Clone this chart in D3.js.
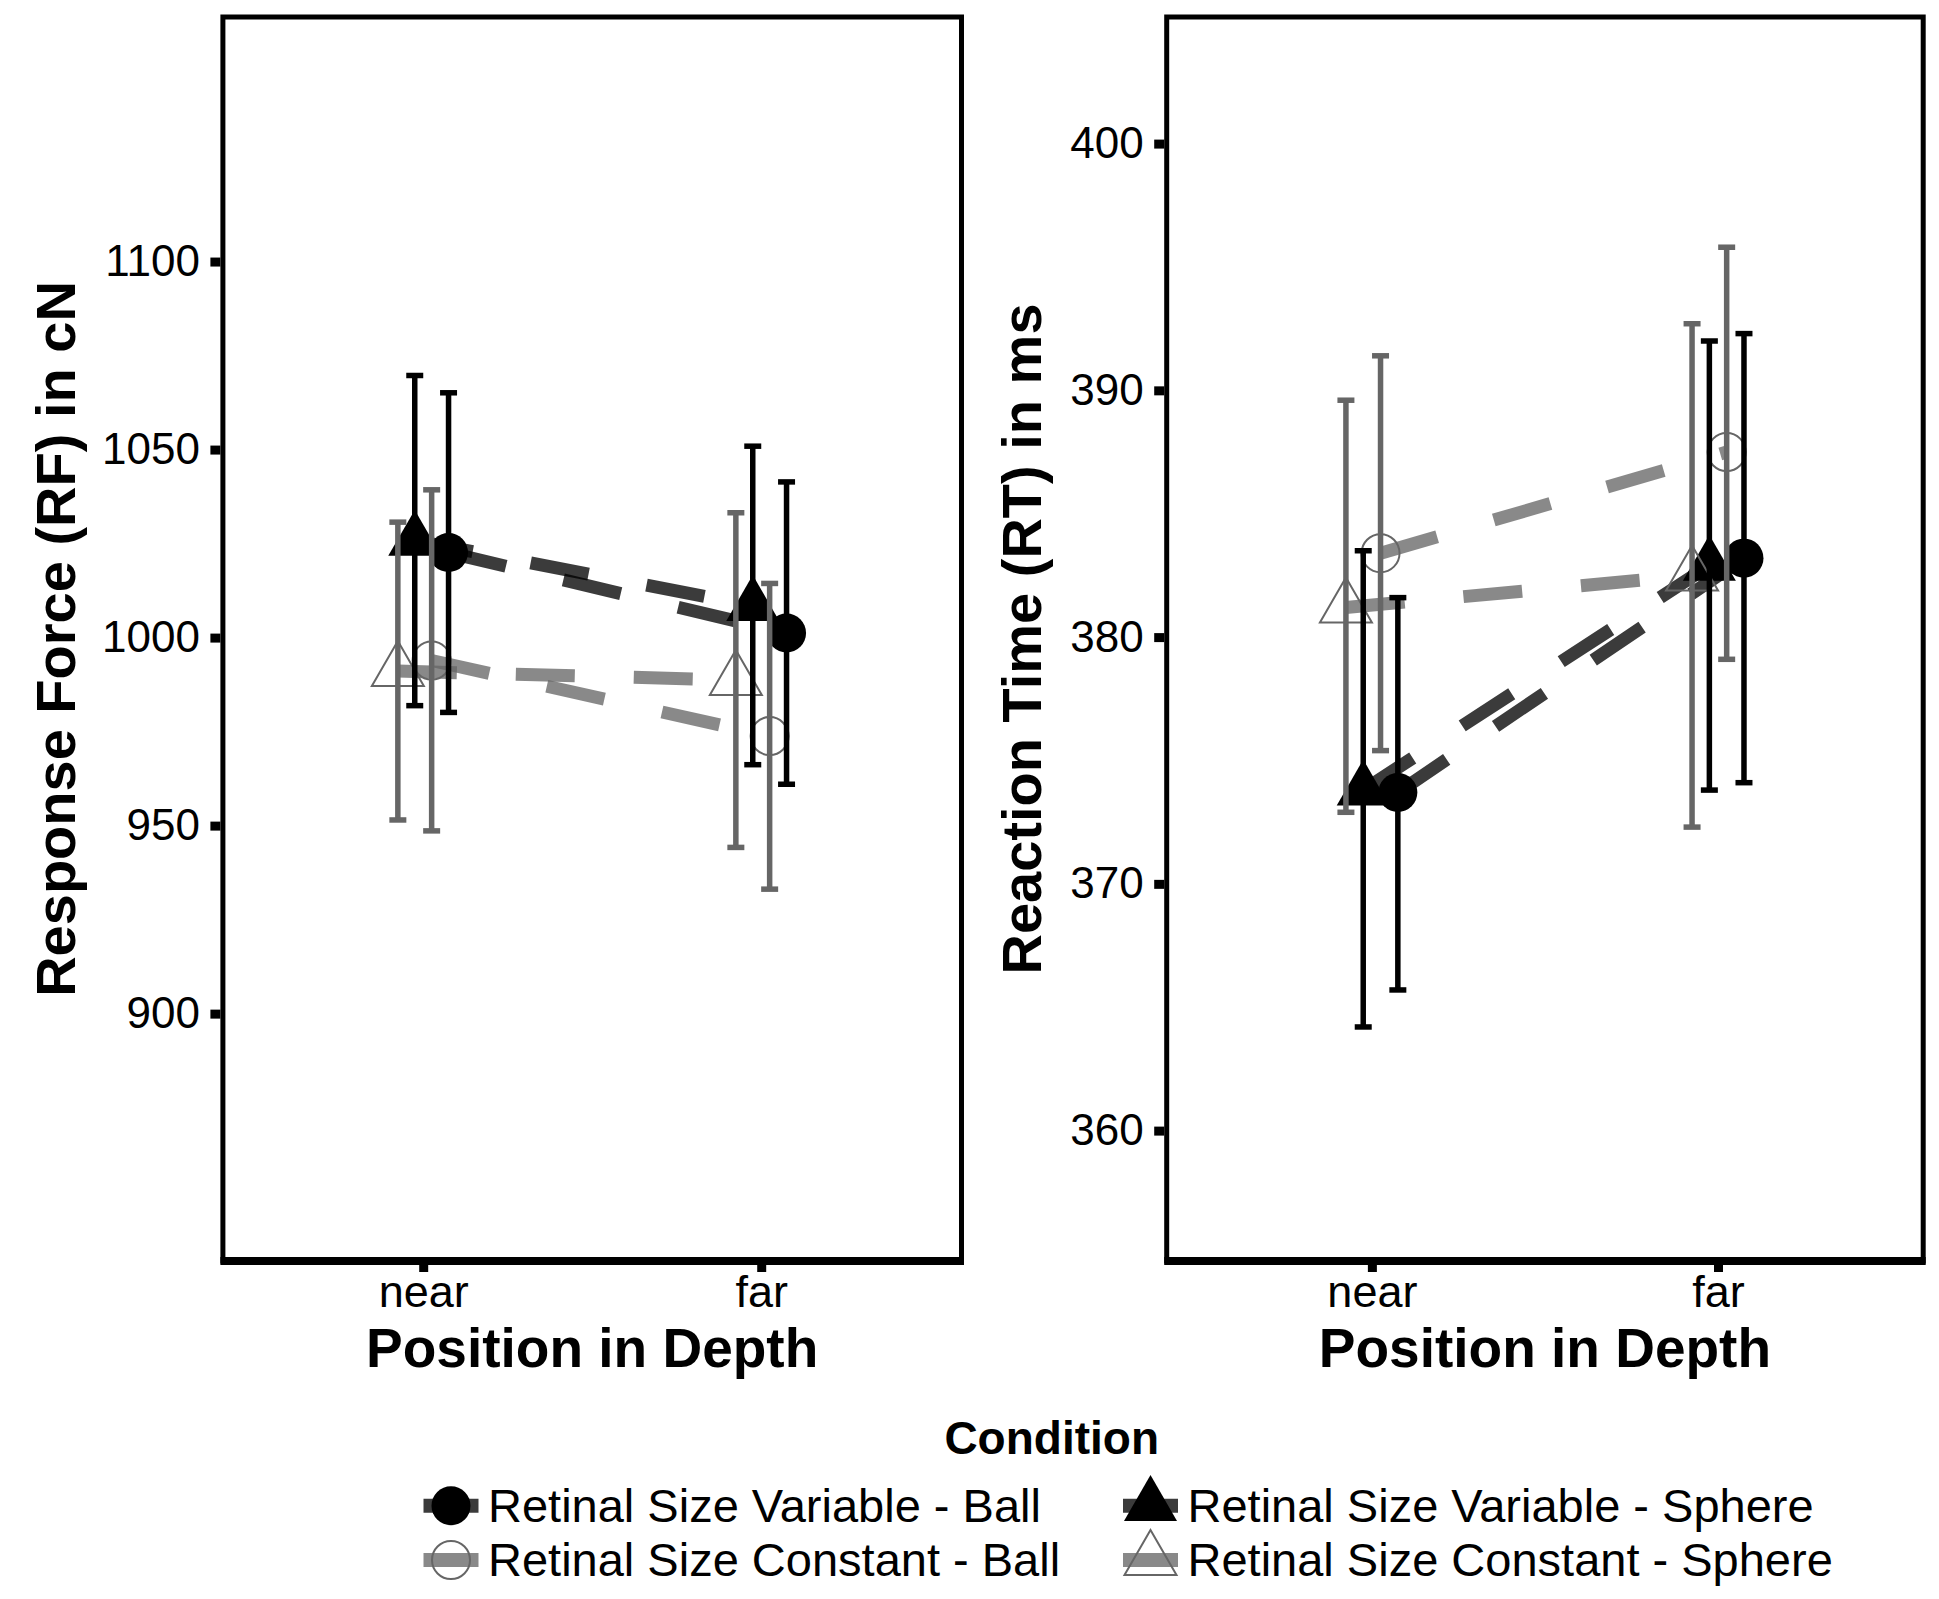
<!DOCTYPE html>
<html>
<head>
<meta charset="utf-8">
<script src="https://cdn.jsdelivr.net/npm/d3@7"></script>
<style>
  body { margin: 0; background: #fff; }
  text { font-family: "Liberation Sans", Arial, Helvetica, sans-serif; }
</style>
</head>
<body>
<svg id="chart" width="1939" height="1599"></svg>
<script>
var positions = ["near", "far"];
var conditions = ["Retinal Size Variable - Ball", "Retinal Size Constant - Ball",
                  "Retinal Size Variable - Sphere", "Retinal Size Constant - Sphere"];
var retinal = ["variable", "constant", "variable", "constant"];
var shapes = ["circle", "circle", "triangle", "triangle"];

// per condition: [near, far]
var rfMean = [[1022.6, 1001.2], [993.9, 973.8], [1025.8, 1008.5], [991.1, 988.7]];
var rfLow  = [[980.1, 961.0], [948.6, 933.1], [981.9, 966.2], [951.5, 944.2]];
var rfHigh = [[1065.1, 1041.4], [1039.3, 1014.4], [1069.7, 1050.9], [1030.7, 1033.2]];

var rtMean = [[373.7, 383.2], [383.4, 387.5], [373.8, 382.9], [381.2, 382.5]];
var rtLow  = [[365.7, 374.1], [375.4, 379.1], [364.2, 373.8], [372.9, 372.3]];
var rtHigh = [[381.6, 392.3], [391.4, 395.8], [383.5, 392.0], [389.6, 392.7]];

var rfTicks = [900, 950, 1000, 1050, 1100];
var rtTicks = [360, 370, 380, 390, 400];

var svg = d3.select("#chart");
var colour = { variable: "#000000", constant: "#666666" };
// dodge slot (position_dodge) of each condition
var slot = [1.5, 0.5, -0.5, -1.5];
var dodgeStep = 0.05;

function triangle(s) {
  var r = s / Math.sqrt(3);
  return "M0," + (-r) + "L" + (s / 2) + "," + (r / 2) + "L" + (-s / 2) + "," + (r / 2) + "Z";
}

function drawPoint(g, shape, kind, cx, cy) {
  var filled = kind == "variable";
  var el;
  if (shape == "circle") {
    el = g.append("circle").attr("cx", cx).attr("cy", cy).attr("r", filled ? 19.5 : 19);
  } else {
    el = g.append("path").attr("d", triangle(filled ? 53 : 52))
      .attr("transform", "translate(" + cx + "," + cy + ")");
  }
  if (filled) el.attr("fill", "#000");
  else el.attr("fill", "none").attr("stroke", "#666").attr("stroke-width", 2);
}

function plot_panel(p) {
  var g = svg.append("g");
  var x = d3.scaleLinear().domain([0.4, 2.6]).range([p.x0, p.x1]);
  var y = d3.scaleLinear().domain(p.ydomain).range([1262, 16]);
  var px = function(c, i) { return x(i + 1 + slot[c] * dodgeStep); };

  // dashed connecting lines
  var line = d3.line()
    .x(function(d) { return d[0]; })
    .y(function(d) { return d[1]; });
  conditions.forEach(function(name, c) {
    var pts = positions.map(function(pos, i) { return [px(c, i), y(p.mean[c][i])]; });
    g.append("path")
      .datum(pts)
      .attr("d", line)
      .attr("fill", "none")
      .attr("stroke", colour[retinal[c]])
      .attr("stroke-opacity", 0.77)
      .attr("stroke-width", 13)
      .attr("stroke-dasharray", "59,59");
  });

  // points
  conditions.forEach(function(name, c) {
    positions.forEach(function(pos, i) {
      drawPoint(g, shapes[c], retinal[c], px(c, i), y(p.mean[c][i]));
    });
  });

  // error bars
  conditions.forEach(function(name, c) {
    positions.forEach(function(pos, i) {
      var cx = px(c, i), lo = y(p.low[c][i]), hi = y(p.high[c][i]);
      var eb = g.append("g")
        .attr("stroke", colour[retinal[c]])
        .attr("stroke-width", 5.5);
      eb.append("line").attr("x1", cx).attr("x2", cx).attr("y1", lo).attr("y2", hi);
      eb.append("line").attr("x1", cx - 8.5).attr("x2", cx + 8.5).attr("y1", lo).attr("y2", lo);
      eb.append("line").attr("x1", cx - 8.5).attr("x2", cx + 8.5).attr("y1", hi).attr("y2", hi);
    });
  });

  // panel border
  g.append("rect")
    .attr("x", p.x0 + 2.5).attr("y", 17)
    .attr("width", p.x1 - p.x0 - 5).attr("height", 1261 - 17)
    .attr("fill", "none").attr("stroke", "#000").attr("stroke-width", 5);
  g.append("line")
    .attr("x1", p.x0).attr("x2", p.x1).attr("y1", 1261).attr("y2", 1261)
    .attr("stroke", "#000").attr("stroke-width", 8);

  // axes
  var yAxis = d3.axisLeft(y).tickValues(p.ticks).tickFormat(d3.format("d"))
    .tickSize(10).tickPadding(10.5);
  var ya = g.append("g").attr("transform", "translate(" + p.x0 + ",0)").call(yAxis);
  ya.select(".domain").remove();
  ya.selectAll(".tick line").attr("stroke", "#000").attr("stroke-width", 9);
  ya.selectAll(".tick text")
    .attr("fill", "#000").attr("font-size", "44px")
    .attr("font-family", "Liberation Sans, Arial, sans-serif");

  var xAxis = d3.axisBottom(x).tickValues([1, 2])
    .tickFormat(function(d) { return positions[d - 1]; })
    .tickSize(7);
  var xa = g.append("g").attr("transform", "translate(0,1265)").call(xAxis);
  xa.select(".domain").remove();
  xa.selectAll(".tick line").attr("stroke", "#000").attr("stroke-width", 9);
  xa.selectAll(".tick text")
    .attr("y", 42).attr("dy", null)
    .attr("fill", "#000").attr("font-size", "45px")
    .attr("font-family", "Liberation Sans, Arial, sans-serif");

  // titles
  g.append("text")
    .attr("x", (p.x0 + p.x1) / 2).attr("y", 1367)
    .attr("text-anchor", "middle")
    .attr("font-size", "55px").attr("font-weight", "bold")
    .text("Position in Depth");
  g.append("text")
    .attr("transform", "translate(" + p.ylabelX + ",639) rotate(-90)")
    .attr("text-anchor", "middle")
    .attr("font-size", "56px").attr("font-weight", "bold")
    .text(p.ylabel);
  return g;
}

plot_panel({ x0: 220.4, x1: 964, ydomain: [833.95, 1165.3], ticks: rfTicks,
  mean: rfMean, low: rfLow, high: rfHigh,
  ylabel: "Response Force (RF) in cN", ylabelX: 75 });

plot_panel({ x0: 1164.2, x1: 1925.7, ydomain: [354.675, 405.171], ticks: rtTicks,
  mean: rtMean, low: rtLow, high: rtHigh,
  ylabel: "Reaction Time (RT) in ms", ylabelX: 1041 });

// legend
var legend = svg.append("g");
legend.append("text")
  .attr("x", 1051.7).attr("y", 1454)
  .attr("text-anchor", "middle")
  .attr("font-size", "46px").attr("font-weight", "bold")
  .text("Condition");

var colX = [451, 1150.5], rowY = [1505.7, 1560];
conditions.forEach(function(name, c) {
  var cx = colX[shapes[c] == "circle" ? 0 : 1];
  var cy = rowY[retinal[c] == "variable" ? 0 : 1];
  legend.append("line")
    .attr("x1", cx - 27.5).attr("x2", cx + 27.5).attr("y1", cy).attr("y2", cy)
    .attr("stroke", colour[retinal[c]]).attr("stroke-opacity", 0.77)
    .attr("stroke-width", 14);
  drawPoint(legend, shapes[c], retinal[c], cx, cy);
  legend.append("text")
    .attr("x", cx + 37).attr("y", cy + 16)
    .attr("font-size", "47px")
    .text(name);
});
</script>
</body>
</html>
